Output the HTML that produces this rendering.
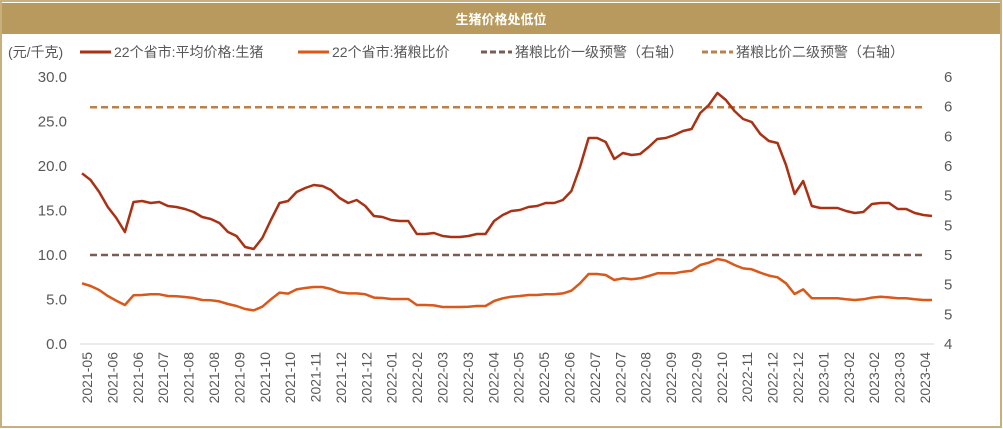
<!DOCTYPE html>
<html><head><meta charset="utf-8"><style>
html,body{margin:0;padding:0;background:#fff;}
svg{display:block;font-family:"Liberation Sans","Noto Sans CJK SC",sans-serif;}
</style></head><body>
<svg id="chart" width="1003" height="429" viewBox="0 0 1003 429">
<rect x="1" y="1" width="1000" height="426" fill="#fff" stroke="#c8b07e" stroke-width="2"/>
<rect x="2" y="3" width="998" height="31" fill="#b89a5e"/>
<text x="501" y="24" text-anchor="middle" fill="#fff" font-size="13" font-weight="bold">生猪价格处低位</text>
<text x="8" y="57" font-size="14" fill="#595959">(元/千克)</text>
<g>
<g><line x1="80" y1="52" x2="111" y2="52" stroke="#a93214" stroke-width="3"/><text x="114" y="57" font-size="14" fill="#595959">22个省市:平均价格:生猪</text></g>
<g><line x1="298" y1="52" x2="329" y2="52" stroke="#d9581a" stroke-width="3"/><text x="332" y="57" font-size="14" fill="#595959">22个省市:猪粮比价</text></g>
<g><line x1="481" y1="52" x2="512" y2="52" stroke="#7a5c52" stroke-width="3" stroke-dasharray="6,3"/><text x="515" y="57" font-size="14" fill="#595959">猪粮比价一级预警（右轴）</text></g>
<g><line x1="702" y1="52" x2="733" y2="52" stroke="#b8824a" stroke-width="3" stroke-dasharray="6,3"/><text x="736" y="57" font-size="14" fill="#595959">猪粮比价二级预警（右轴）</text></g>
</g>
<g id="axes"></g>
<g id="marks"></g>
</svg>
<script>
const dateLabels = ["2021-05","2021-06","2021-06","2021-07","2021-08","2021-08","2021-09","2021-10","2021-10","2021-11","2021-12","2021-12","2022-01","2022-02","2022-03","2022-03","2022-04","2022-05","2022-05","2022-06","2022-07","2022-07","2022-08","2022-09","2022-09","2022-10","2022-11","2022-12","2022-12","2023-01","2023-02","2023-02","2023-03","2023-04"];
const leftTicks = [0,5,10,15,20,25,30];
const rightTickLabels = ["4","5","5","5","5","5","6","6","6","6"];
const pigPrice = [19.18,18.43,17.08,15.39,14.16,12.58,15.96,16.07,15.84,15.96,15.51,15.39,15.17,14.83,14.27,14.04,13.60,12.58,12.13,10.90,10.67,11.91,13.93,15.84,16.07,17.08,17.53,17.87,17.75,17.30,16.40,15.84,16.18,15.51,14.38,14.27,13.93,13.82,13.82,12.36,12.36,12.47,12.13,12.02,12.02,12.13,12.36,12.36,13.82,
14.49,14.94,15.06,15.39,15.51,15.84,15.84,16.18,17.19,19.89,23.15,23.15,22.70,20.79,21.46,21.24,21.35,22.13,23.03,23.15,23.48,23.93,24.16,25.96,26.85,28.20,27.42,26.18,25.28,24.94,23.60,22.81,22.58,20.11,16.85,18.31,15.51,15.28,15.28,15.28,14.94,14.72,14.83,15.73,15.84,15.84,15.17,15.17,14.72,14.49,14.38];
const pigGrainRatio = [6.82,6.52,6.07,5.39,4.87,4.38,5.47,5.51,5.58,5.58,5.39,5.36,5.28,5.17,4.94,4.91,4.79,4.49,4.27,3.93,3.78,4.19,5.02,5.77,5.66,6.14,6.29,6.40,6.40,6.18,5.81,5.69,5.69,5.58,5.21,5.17,5.06,5.06,5.06,4.38,4.38,4.34,4.16,4.16,4.16,4.19,4.27,4.27,4.83,
5.13,5.32,5.39,5.51,5.51,5.58,5.58,5.69,5.99,6.82,7.87,7.87,7.75,7.19,7.38,7.27,7.38,7.64,7.94,7.94,7.94,8.12,8.24,8.88,9.14,9.55,9.36,8.88,8.50,8.39,8.01,7.68,7.49,6.82,5.62,6.14,5.13,5.13,5.13,5.13,5.02,4.94,5.02,5.21,5.32,5.24,5.13,5.13,5.02,4.94,4.94];
const warningLevels = [10, 26.6];

const NS = "http://www.w3.org/2000/svg";
const Y0 = 344, Y1 = 77, VMAX = 30;
function yScale(v){ return Y0 - (v / VMAX) * (Y0 - Y1); }
function xScale(i){ return 82 + i * (850 / (pigPrice.length - 1)); }
function tickX(k){ return 87 + k * (838 / (dateLabels.length - 1)); }
function rightY(k){ return Y0 - k * (Y0 - Y1) / (rightTickLabels.length - 1); }
function mk(tag, attrs, parent){ const e = document.createElementNS(NS, tag); for (const k in attrs) e.setAttribute(k, attrs[k]); parent.appendChild(e); return e; }
const axes = document.getElementById('axes');
const marks = document.getElementById('marks');

const base = mk('line', {x1:80, y1:Y0, x2:934, y2:Y0, stroke:'#d9d9d9', 'stroke-width':1}, axes);



leftTicks.forEach(v => {
  const t = mk('text', {x:67, y:yScale(v)+5, 'text-anchor':'end', 'font-size':15, fill:'#595959'}, axes);
  t.textContent = v.toFixed(1);
  
  
});
rightTickLabels.forEach((s, k) => {
  const t = mk('text', {x:944, y:rightY(k)+5, 'font-size':15, fill:'#595959'}, axes);
  t.textContent = s;
  
  
});
dateLabels.forEach((s, k) => {
  const x = tickX(k);
  const t = mk('text', {x:0, y:0, 'text-anchor':'end', 'font-size':14, fill:'#595959', transform:`translate(${x+5},352) rotate(-90)`}, axes);
  t.textContent = s;
  
  
});

const wColors = ['#7a5c52', '#b8824a'];
warningLevels.forEach((v, i) => {
  const l = mk('line', {x1:90, y1:yScale(v), x2:924, y2:yScale(v), stroke:wColors[i], 'stroke-width':2.5, 'stroke-dasharray':'7,4'}, marks);
  
  
});

function pathFor(arr){ return arr.map((v,i) => (i ? 'L' : 'M') + xScale(i).toFixed(1) + ',' + yScale(v).toFixed(1)).join(''); }
const p2 = mk('path', {d:pathFor(pigGrainRatio), fill:'none', stroke:'#d9581a', 'stroke-width':2.5, 'stroke-linejoin':'round'}, marks);


const p1 = mk('path', {d:pathFor(pigPrice), fill:'none', stroke:'#a93214', 'stroke-width':2.5, 'stroke-linejoin':'round'}, marks);


</script>
</body></html>
